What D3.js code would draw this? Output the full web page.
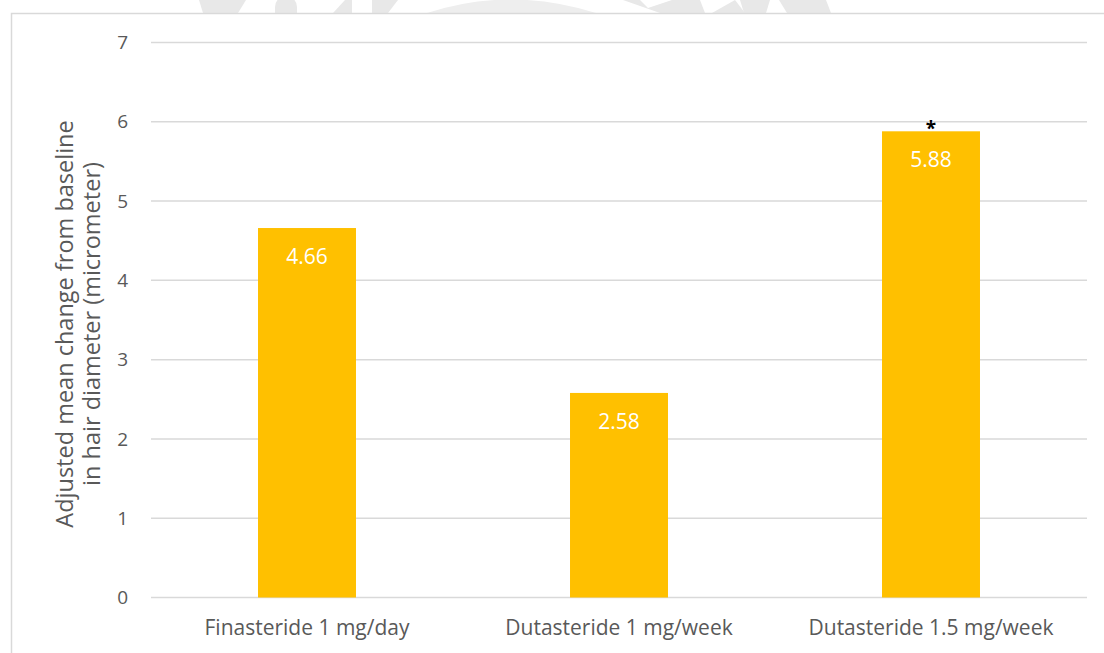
<!DOCTYPE html>
<html>
<head>
<meta charset="utf-8">
<script src="https://cdn.jsdelivr.net/npm/d3@7"></script>
<style>
  html, body { margin: 0; padding: 0; background: #fff; }
  svg { display: block; font-family: "Open Sans", "Liberation Sans", sans-serif; }
</style>
</head>
<body>
<svg id="chart" width="1104" height="653"></svg>
<script>
const categories = ["Finasteride 1 mg/day", "Dutasteride 1 mg/week", "Dutasteride 1.5 mg/week"];
const values = [4.66, 2.58, 5.88];
const valueLabels = ["4.66", "2.58", "5.88"];
const markers = ["", "", "*"];
const yTicks = [0, 1, 2, 3, 4, 5, 6, 7];
const yTitleLines = ["Adjusted mean change from baseline", "in hair diameter (micrometer)"];

const svg = d3.select("#chart");
const plot = { left: 151, right: 1087, top: 42.5, bottom: 597.5 };

// faint watermark fragments above the chart frame
const wm = svg.append("g").attr("fill", "#e8e8e8");
wm.append("path").attr("d", "M199,0 L246,0 L238,13 L203,13 Z");
wm.append("path").attr("d", "M275,13 A11,11 0 0 1 297,13 Z").attr("transform", "translate(0,-6)");
wm.append("rect").attr("x", 275).attr("y", 7).attr("width", 22).attr("height", 6);
wm.append("path").attr("d", "M333,13 L345,0 L352,0 L352,13 Z");
wm.append("path").attr("d", "M372,0 L398,0 L388,13 L372,13 Z");
wm.append("path").attr("d", "M427,13 Q510,-14 596,13 Z").attr("fill", "#eeeeee");
wm.append("path").attr("d", "M623,0 L640,0 L648,8 L672,0 L700,0 L705,13 L660,13 Z");
wm.append("path").attr("d", "M712,13 L735,0 L745,13 Z");
wm.append("path").attr("d", "M740,0 L770,0 L766,13 L744,13 Z");
wm.append("path").attr("d", "M779,0 L826,0 L831,13 L787,13 Z");

// chart border
svg.append("rect")
  .attr("x", 11.5).attr("y", 13.5)
  .attr("width", 1110).attr("height", 660)
  .attr("fill", "#fff").attr("stroke", "#d9d9d9").attr("stroke-width", 1.5);

const x = d3.scaleBand().domain(categories).range([plot.left, plot.right])
  .paddingInner(0.686).paddingOuter(0.343);
const y = d3.scaleLinear().domain([0, 7]).range([plot.bottom, plot.top]);

// gridlines
svg.append("g").selectAll("line").data(yTicks).join("line")
  .attr("x1", plot.left).attr("x2", plot.right)
  .attr("y1", d => y(d)).attr("y2", d => y(d))
  .attr("stroke", "#d9d9d9").attr("stroke-width", 1.5);

// y axis labels
const yAxis = d3.axisLeft(y).tickValues(yTicks).tickSize(0).tickPadding(0).tickFormat(d3.format("d"));
const gy = svg.append("g").attr("transform", `translate(${plot.left - 23},0)`).call(yAxis);
gy.select(".domain").remove();
gy.selectAll("text").attr("font-size", 19).attr("fill", "#595959")
  .attr("font-family", "'Open Sans', sans-serif");

// x axis labels
const xAxis = d3.axisBottom(x).tickSize(0).tickPadding(0);
const gx = svg.append("g").attr("transform", `translate(0,${plot.bottom + 23})`).call(xAxis);
gx.select(".domain").remove();
gx.selectAll("text").attr("font-size", 21).attr("fill", "#595959")
  .attr("font-family", "'Open Sans', sans-serif");

// bars
svg.append("g").selectAll("rect").data(values).join("rect")
  .attr("x", (d, i) => x(categories[i]))
  .attr("width", x.bandwidth())
  .attr("y", d => y(d))
  .attr("height", d => y(0) - y(d))
  .attr("fill", "#ffc000");

// value labels
svg.append("g").selectAll("text").data(values).join("text")
  .attr("x", (d, i) => x(categories[i]) + x.bandwidth() / 2)
  .attr("y", d => y(d) + 36)
  .attr("text-anchor", "middle")
  .attr("font-size", 21).attr("fill", "#ffffff")
  .text((d, i) => valueLabels[i]);

// significance markers
svg.append("g").selectAll("text").data(values).join("text")
  .attr("x", (d, i) => x(categories[i]) + x.bandwidth() / 2)
  .attr("y", d => y(d) + 4)
  .attr("text-anchor", "middle")
  .attr("font-size", 19).attr("font-weight", "bold").attr("fill", "#000")
  .text((d, i) => markers[i]);

// y title
const title = svg.append("text")
  .attr("transform", `translate(73,324) rotate(-90)`)
  .attr("text-anchor", "middle")
  .attr("font-size", 23.5).attr("fill", "#595959");
title.selectAll("tspan").data(yTitleLines).join("tspan")
  .attr("x", 0).attr("y", (d, i) => i * 27)
  .text(d => d);
</script>
</body>
</html>
